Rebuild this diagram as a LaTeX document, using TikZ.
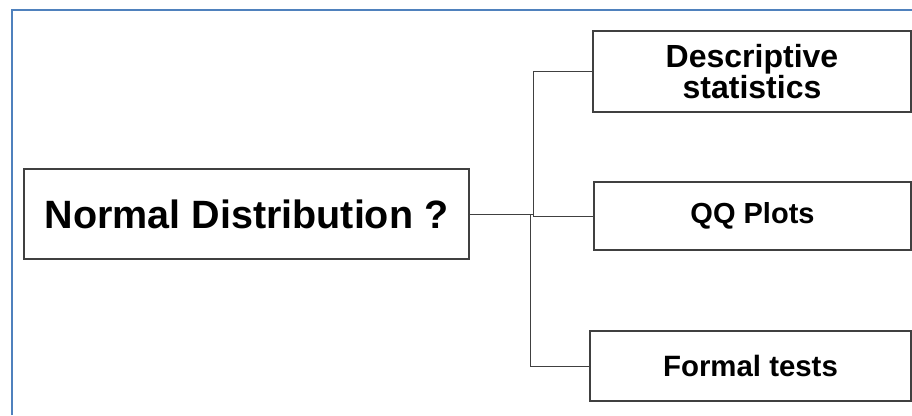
\documentclass[tikz,border=0pt]{standalone}
\usepackage{fontspec}
\setmainfont{Liberation Sans}
\usetikzlibrary{positioning}
\definecolor{frameblue}{RGB}{79,129,189}
\definecolor{boxgray}{RGB}{64,64,64}
\tikzset{box/.style={draw=boxgray, line width=1.3pt, inner sep=0pt, align=center, font=\bfseries}}
\tikzset{link/.style={draw=boxgray, line width=1pt}}

\begin{document}
\begin{tikzpicture}[x=1pt, y=-1pt]
            \useasboundingbox (0,0) rectangle (912,415);
            \draw[frameblue, line width=2.4pt] (12,415) -- (12,10) -- (912,10);
            \node[box, minimum width=445pt, minimum height=90pt, font=\bfseries\fontsize{39.5}{40}\selectfont] (nd) at (246.5,214) {Normal Distribution ?};
            \node[box, minimum width=318pt, minimum height=81pt, font=\bfseries\fontsize{32}{31}\selectfont] (ds) at (752,71.5) {Descriptive\\statistics};
            \node[box, minimum width=317pt, minimum height=68pt, font=\bfseries\fontsize{29}{30}\selectfont] (qq) at (752.5,216) {QQ Plots};
            \node[box, minimum width=321pt, minimum height=70pt, font=\bfseries\fontsize{29.4}{30}\selectfont] (ft) at (750.5,366) {Formal tests};
            \coordinate (hub) at (533,214);
            \coordinate (hub2) at (530,214);
            \draw[link] (nd.east) -- (hub) |- (ds.west);
            \draw[link] (hub) |- (qq.west);
            \draw[link] (hub2) |- (ft.west);
        \end{tikzpicture}
\end{document}
